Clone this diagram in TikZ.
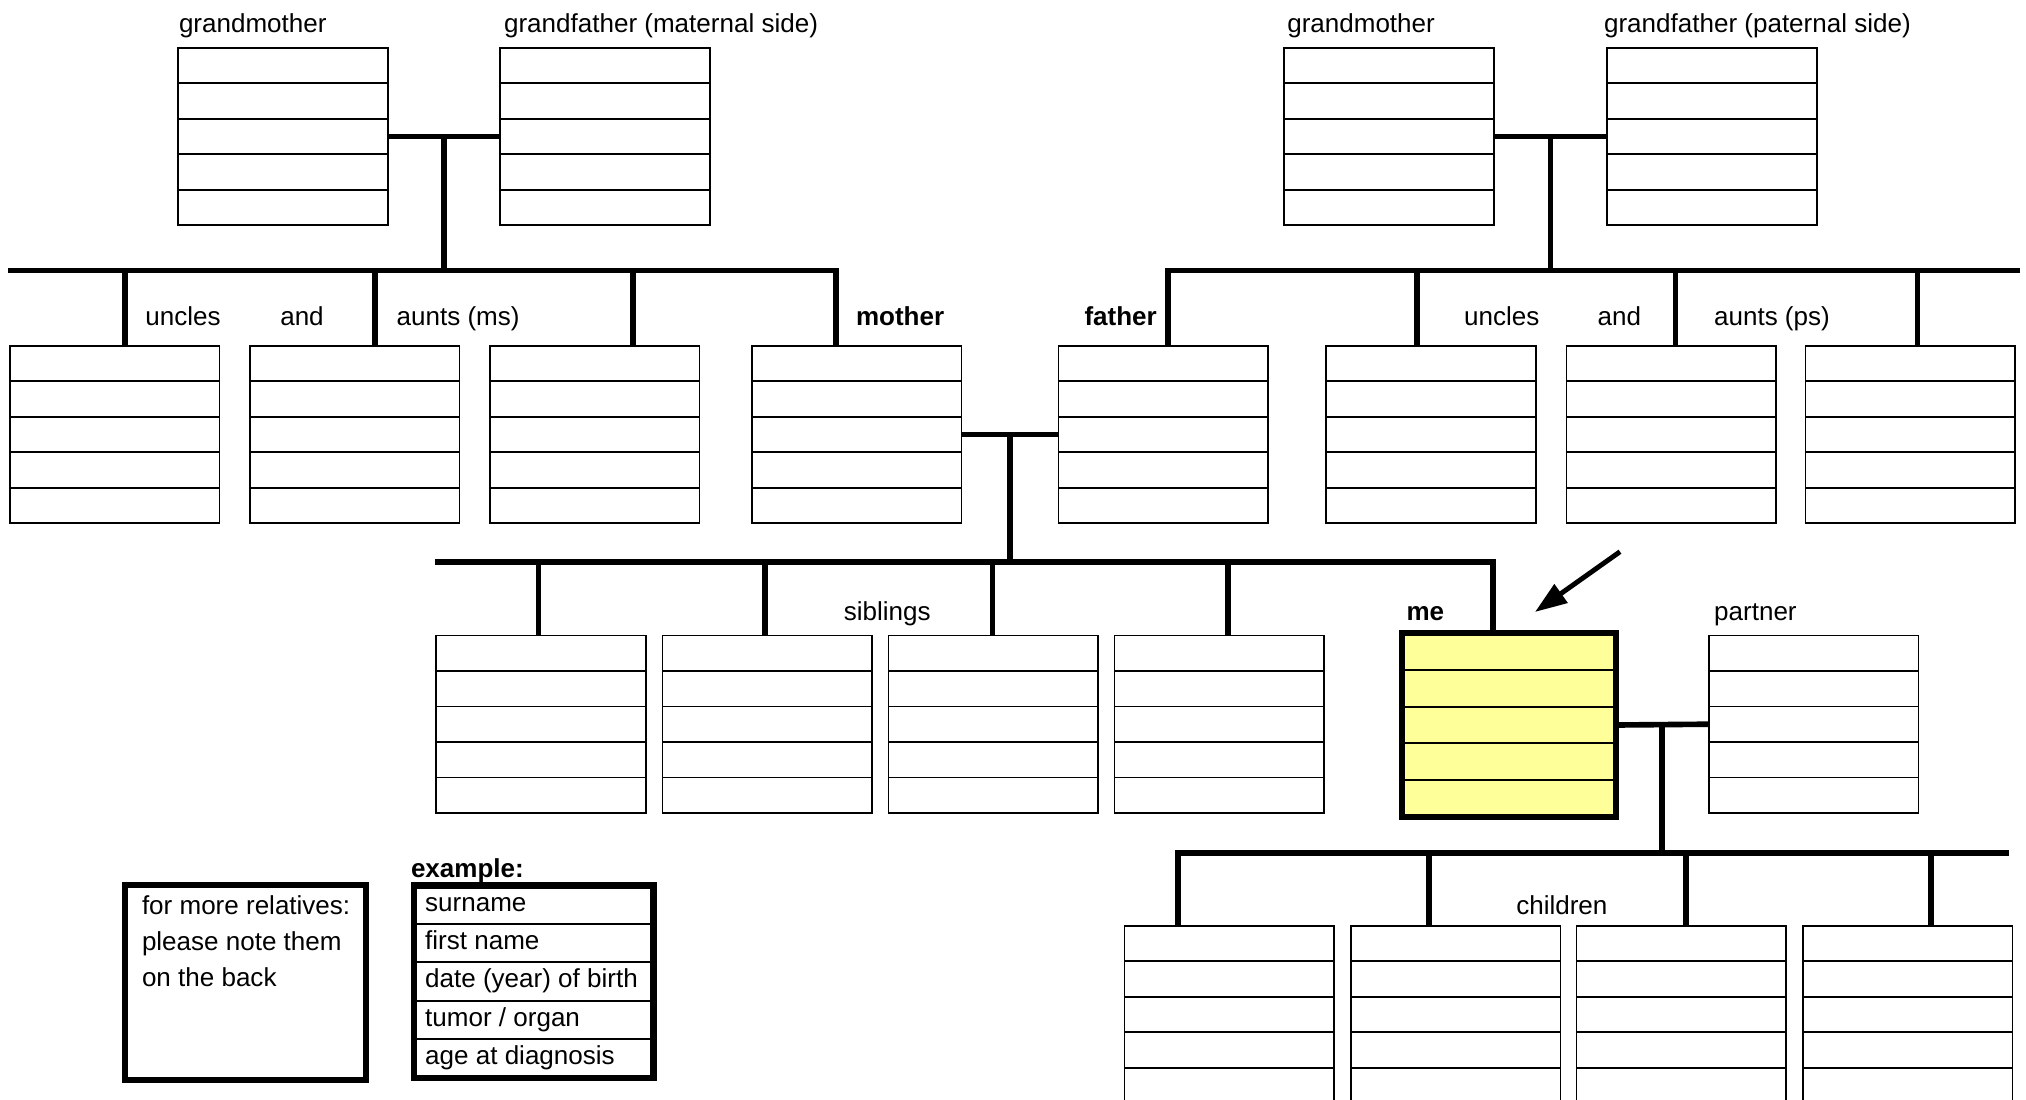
\documentclass[tikz,border=0pt]{standalone}
\usepackage{fontspec}
\setmainfont{Liberation Sans}
\usetikzlibrary{shapes.multipart}
\usetikzlibrary{arrows.meta}
\usetikzlibrary{calc}

\definecolor{meyellow}{HTML}{FFFF99}

\tikzset{
    formbox/.style={draw, line width=0.45pt, rectangle split, rectangle split parts=5,
        minimum width=2.095cm, inner sep=0pt,
        rectangle split empty part height=0.339cm, rectangle split empty part depth=0pt},
    link/.style={line width=1.6pt},
    frame/.style={line width=1.8pt},
    lbl/.style={anchor=base west, inner sep=0pt},
}

\newcommand\exrow[1]{\rule[-1.18mm]{0pt}{3.63mm}#1}

\begin{document}
\begin{tikzpicture}[x=0.01cm, y=-0.01cm, font=\fontsize{7.4}{10.3}\selectfont]
    \useasboundingbox (0,0) rectangle (2026,1099);
    \clip (0,0) rectangle (2026,1099);

    % grandparents
    \node[formbox] (gm1) at (283,136.5) {};
    \node[formbox] (gf1) at (605,136.5) {};
    \node[formbox] (gm2) at (1389,136.5) {};
    \node[formbox] (gf2) at (1712,136.5) {};

    % uncles, aunts and parents
    \foreach \n/\x in {u1/114.6, u2/354.8, u3/594.7, mo/856.7, fa/1163.3, p1/1431, p2/1671.2, p3/1910.3}
        \node[formbox] (\n) at (\x,434.5) {};

    % siblings, me and partner
    \foreach \n/\x in {s1/541, s2/767.4, s3/993.1, s4/1219.2, pa/1813.7}
        \node[formbox] (\n) at (\x,724.2) {};
    \node[formbox, fill=meyellow, minimum width=2.12cm, rectangle split empty part height=0.349cm] (me) at (1509,725) {};
    \draw[frame] (me.north west) rectangle (me.south east);

    % children
    \foreach \n/\x in {c1/1229.3, c2/1455.6, c3/1681.2, c4/1907.8}
        \node[formbox] (\n) at (\x,1014.5) {};

    % couples
    \draw[link] (gm1.east) -- (gf1.west);
    \draw[link] (gm2.east) -- (gf2.west);
    \draw[link] (mo.east) -- (fa.west);
    \draw[link] (me.east) -- (pa.west);

    \coordinate (mbar) at (8,270.4);
    \coordinate (pbar) at (2020,270.4);
    \coordinate (sbar) at (435,562);
    \coordinate (cbar) at (2009,852.7);

    \path ($(gm1.east)!.5!(gf1.west)$) coordinate (mc);
    \path ($(gm2.east)!.5!(gf2.west)$) coordinate (pc);
    \path ($(mo.east)!.5!(fa.west)$) coordinate (ec);
    \path ($(me.east)!.5!(pa.west)$) coordinate (kc);
    \draw[link] (mc) -- (mc |- mbar);
    \draw[link] (pc) -- (pc |- pbar);
    \draw[link] (ec) -- (ec |- sbar);
    \draw[link] (kc) -- (kc |- cbar);

    % bars
    \draw[link] (mbar) -| (836,0 |- mo.north);
    \draw[link] (pbar) -| (1168.2,0 |- fa.north);
    \draw[link] (sbar) -| (1493,0 |- me.north);
    \draw[link] (cbar) -| (1178.3,0 |- c1.north);

    \foreach \n/\x in {u1/125, u2/375, u3/633}
        \draw[link] (\x,0 |- mbar) -- (\x,0 |- \n.north);
    \foreach \n/\x in {p1/1416.9, p2/1675.4, p3/1917.5}
        \draw[link] (\x,0 |- pbar) -- (\x,0 |- \n.north);
    \foreach \n/\x in {s1/538.4, s2/764.8, s3/992.5, s4/1227.8}
        \draw[link] (\x,0 |- sbar) -- (\x,0 |- \n.north);
    \foreach \n/\x in {c2/1428.7, c3/1686.3, c4/1930.7}
        \draw[link] (\x,0 |- cbar) -- (\x,0 |- \n.north);

    % labels
    \node[lbl] (lgm1) at (178.3,32) {grandmother};
    \node[lbl] (lgf1) at (503.4,32) {grandfather (maternal side)};
    \node[lbl] (lgm2) at (1286.6,32) {grandmother};
    \node[lbl] (lgf2) at (1603.4,32) {grandfather (paternal side)};
    \node[lbl] (lu1) at (144.7,325.7) {uncles};
    \node[lbl] (la1) at (279.6,325.7) {and};
    \node[lbl] (lau1) at (396,325.7) {aunts (ms)};
    \node[lbl] (lmo) at (855.3,325.7) {\textbf{mother}};
    \node[lbl] (lfa) at (1083.8,325.7) {\textbf{father}};
    \node[lbl] (lu2) at (1463.4,325.7) {uncles};
    \node[lbl] (la2) at (1596.9,325.7) {and};
    \node[lbl] (lau2) at (1713.4,325.7) {aunts (ps)};
    \node[lbl] (lsib) at (843.2,620) {siblings};
    \node[lbl] (lme) at (1405.8,620) {\textbf{me}};
    \node[lbl] (lpa) at (1713.5,620) {partner};
    \node[lbl] (lch) at (1515.6,914) {children};

    % arrow to me
    \coordinate (arrtail) at (1620,551.7);
    \draw[line width=1.4pt, -{Triangle[length=0.32cm, width=0.22cm]}] (arrtail) -- ($(me.north)+(26,-21)$);

    % note box
    \node[draw, frame, outer sep=0pt, minimum width=2.405cm, minimum height=1.944cm, anchor=north west] (more) at (125.3,885.3) {};
    \node[anchor=north west, inner sep=0pt, align=left] (moretxt) at (141.3,894.6) {for more relatives:\\please note them\\on the back};

    % example box
    \node[lbl] (lex) at (410.3,877) {\textbf{example:}};
    \node[draw, line width=0.6pt, outer sep=0pt, rectangle split, rectangle split parts=5, rectangle split part align=left,
        minimum width=2.392cm, inner ysep=0pt, inner xsep=0.11cm, anchor=north west] (ex) at (414.2,885.5)
        {\exrow{surname}\nodepart{two}\exrow{first name}\nodepart{three}\exrow{date (year) of birth}%
         \nodepart{four}\exrow{tumor / organ}\nodepart{five}\exrow{age at diagnosis}};
    \draw[frame] (ex.north west) rectangle (ex.south east);
\end{tikzpicture}
\end{document}
